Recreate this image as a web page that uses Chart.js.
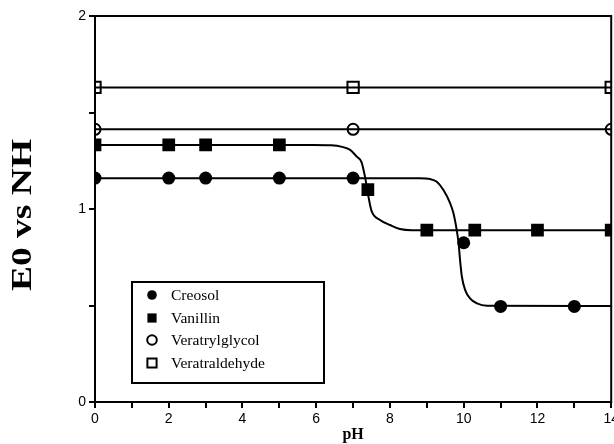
<!DOCTYPE html>
<html>
<head>
<meta charset="utf-8">
<script src="https://cdn.jsdelivr.net/npm/chart.js@4/dist/chart.umd.min.js"></script>
<style>
  html, body { margin: 0; padding: 0; background: #fff; overflow: hidden; }
  #wrap { width: 622px; height: 444px; position: relative; }
</style>
</head>
<body>
<div id="wrap"><canvas id="ehChart"></canvas></div>
<script>
// measured points
const phCreosol = [0, 2, 3, 5, 7, 10, 11, 13];
const eCreosol = [1.16, 1.16, 1.16, 1.16, 1.16, 0.825, 0.495, 0.495];
const phVanillin = [0, 2, 3, 5, 7.4, 9, 10.3, 12, 14];
const eVanillin = [1.332, 1.332, 1.332, 1.332, 1.10, 0.89, 0.89, 0.89, 0.89];
const phFlat = [0, 7, 14];
const eVeratrylglycol = [1.413, 1.413, 1.413];
const eVeratraldehyde = [1.63, 1.63, 1.63];

// fitted curves
const phCreosolFit = [0, 8.8, 9.09, 9.27, 9.45, 9.63, 9.72, 9.81, 9.86, 9.9, 9.95, 10.04, 10.17, 10.36, 10.63, 14];
const eCreosolFit = [1.159, 1.159, 1.155, 1.141, 1.098, 1.031, 0.979, 0.891, 0.824, 0.736, 0.649, 0.58, 0.537, 0.511, 0.499, 0.497];
const phVanillinFit = [0, 5.9, 6.4, 6.7, 6.92, 7.1, 7.23, 7.33, 7.42, 7.5, 7.73, 8.0, 8.27, 8.6, 14];
const eVanillinFit = [1.332, 1.332, 1.33, 1.322, 1.306, 1.271, 1.242, 1.16, 1.06, 0.99, 0.943, 0.917, 0.896, 0.89, 0.89];

const xTicks = [0, 2, 4, 6, 8, 10, 12, 14];
const yTicks = [0, 1, 2];
const yLabel = "E0 vs NH";

const pts = (xs, ys) => xs.map((x, i) => ({ x: x, y: ys[i] }));

const frame = {
    id: "frame",
    beforeDatasetsDraw(chart) {
        const { ctx, chartArea: a } = chart;
        ctx.save();
        ctx.strokeStyle = "#000";
        ctx.lineWidth = 2;
        ctx.strokeRect(a.left, a.top, a.right - a.left, a.bottom - a.top);
        ctx.restore();
    }
};

// the scanned axis title is stretched along its length
const yTitle = {
    id: "yTitle",
    afterDraw(chart) {
        const ctx = chart.ctx;
        ctx.save();
        ctx.translate(23, 215);
        ctx.rotate(-Math.PI / 2);
        ctx.scale(1.25, 1);
        ctx.font = "bold 30px 'Liberation Serif', serif";
        ctx.textAlign = "center";
        ctx.textBaseline = "middle";
        ctx.fillStyle = "#000";
        ctx.fillText(yLabel, 0, 0);
        ctx.restore();
    }
};

const boxLegend = {
    id: "boxLegend",
    afterDraw(chart) {
        const ctx = chart.ctx;
        ctx.save();
        ctx.strokeStyle = "#000";
        ctx.lineWidth = 2;
        ctx.strokeRect(132, 282, 192, 101);
        ctx.font = "15.5px 'Liberation Serif', serif";
        ctx.textBaseline = "middle";
        const rows = [295, 318, 340, 363];
        chart.data.datasets.slice(0, 4).forEach((ds, i) => {
            const open = ds.backgroundColor !== "#000";
            ctx.fillStyle = open ? "#fff" : "#000";
            ctx.strokeStyle = "#000";
            Chart.helpers.drawPoint(ctx, {
                pointStyle: ds.pointStyle,
                radius: ds.pointStyle === "rect" ? 6.5 : 4.8,
                rotation: 0,
                borderWidth: open ? 2 : 0
            }, 152, rows[i]);
            ctx.fillStyle = "#000";
            ctx.fillText(ds.label, 171, rows[i] + 1);
        });
        ctx.restore();
    }
};

new Chart(document.getElementById("ehChart"), {
    type: "scatter",
    data: {
        datasets: [
            {
                label: "Creosol",
                data: pts(phCreosol, eCreosol),
                pointStyle: "circle",
                pointRadius: 6.5,
                backgroundColor: "#000",
                borderColor: "#000",
                borderWidth: 0,
                showLine: false
            },
            {
                label: "Vanillin",
                data: pts(phVanillin, eVanillin),
                pointStyle: "rect",
                pointRadius: 9,
                backgroundColor: "#000",
                borderColor: "#000",
                borderWidth: 0,
                showLine: false
            },
            {
                label: "Veratrylglycol",
                data: pts(phFlat, eVeratrylglycol),
                pointStyle: "circle",
                pointRadius: 5.5,
                pointBorderWidth: 2,
                backgroundColor: "rgba(0,0,0,0)",
                borderColor: "#000",
                borderWidth: 2,
                showLine: true
            },
            {
                label: "Veratraldehyde",
                data: pts(phFlat, eVeratraldehyde),
                pointStyle: "rect",
                pointRadius: 8,
                pointBorderWidth: 2,
                backgroundColor: "rgba(0,0,0,0)",
                borderColor: "#000",
                borderWidth: 2,
                showLine: true
            },
            {
                label: "Creosol fit",
                data: pts(phCreosolFit, eCreosolFit),
                pointRadius: 0,
                borderColor: "#000",
                borderWidth: 2,
                showLine: true,
                cubicInterpolationMode: "monotone"
            },
            {
                label: "Vanillin fit",
                data: pts(phVanillinFit, eVanillinFit),
                pointRadius: 0,
                borderColor: "#000",
                borderWidth: 2,
                showLine: true,
                cubicInterpolationMode: "monotone"
            }
        ]
    },
    options: {
        responsive: true,
        maintainAspectRatio: false,
        animation: false,
        layout: { padding: { top: 16, left: 0, right: 0, bottom: 0 } },
        plugins: { legend: { display: false }, tooltip: { enabled: false } },
        scales: {
            x: {
                type: "linear",
                min: 0,
                max: 14,
                ticks: {
                    stepSize: 1,
                    autoSkip: false,
                    maxRotation: 0,
                    padding: 3,
                    color: "#000",
                    font: { family: "'Liberation Sans', Arial", size: 14 },
                    callback: v => xTicks.includes(v) ? v : ""
                },
                grid: { drawOnChartArea: false, drawTicks: true, tickLength: 6, color: "#000", lineWidth: 2 },
                border: { display: true, color: "#000", width: 2 },
                title: {
                    display: true,
                    text: "pH",
                    color: "#000",
                    padding: { top: 0, bottom: 0 },
                    font: { family: "'Liberation Serif', serif", size: 16, weight: "bold" }
                },
                afterFit: s => { s.height = 42; }
            },
            y: {
                min: 0,
                max: 2,
                ticks: {
                    stepSize: 0.5,
                    padding: 3,
                    color: "#000",
                    font: { family: "'Liberation Sans', Arial", size: 14 },
                    callback: v => yTicks.includes(v) ? v : ""
                },
                grid: { drawOnChartArea: false, drawTicks: true, tickLength: 6, color: "#000", lineWidth: 2 },
                border: { display: true, color: "#000", width: 2 },
                afterFit: s => { s.width = 95; }
            }
        }
    },
    plugins: [frame, yTitle, boxLegend]
});
</script>
</body>
</html>
